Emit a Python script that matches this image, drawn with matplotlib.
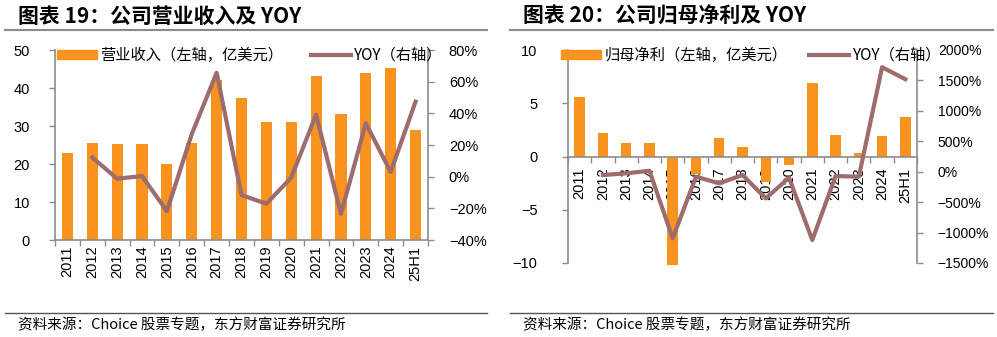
import numpy as np
import matplotlib.pyplot as plt
from matplotlib.lines import Line2D
from matplotlib.patches import Patch
from matplotlib.ticker import FuncFormatter, FixedLocator

plt.rcParams['font.family'] = ['Liberation Sans', 'Noto Sans CJK SC', 'DejaVu Sans']
plt.rcParams['axes.unicode_minus'] = True

cats = ['2011', '2012', '2013', '2014', '2015', '2016', '2017', '2018',
        '2019', '2020', '2021', '2022', '2023', '2024', '25H1']

# 图表19 营业收入（亿美元）及 YOY（%）
revenue = [22.8, 25.6, 25.2, 25.3, 20.0, 25.5, 42.0, 37.3,
           31.0, 31.0, 43.1, 33.1, 44.0, 45.3, 28.9]
rev_yoy = [np.nan, 12.1, -1.3, 0.4, -21.8, 26.9, 65.6, -11.6,
           -17.1, -0.6, 39.2, -23.5, 33.7, 3.0, 47.4]

# 图表20 归母净利（亿美元）及 YOY（%）
profit = [5.6, 2.2, 1.3, 1.3, -10.2, -1.6, 1.7, 0.9,
          -2.4, -0.8, 6.9, 2.0, 0.35, 1.9, 3.7]
prof_yoy = [np.nan, -54, -27, 16, -1095, -82, -191, -54,
            -438, -99, -1123, -71, -82, 1717, 1520]

ORANGE = '#F7931E'
BROWN = '#9E6C6C'
GRAY = '#8C8C8C'
CJK = ['Noto Sans CJK SC', 'DejaVu Sans']

fig = plt.figure(figsize=(9.97, 3.37), dpi=100)
W, H = 997, 337


def box(x0, y0, x1, y1):
    return [x0 / W, 1 - y1 / H, (x1 - x0) / W, (y1 - y0) / H]


def pct(v, pos):
    s = f'{v:.0f}%'
    return s.replace('-', '\u2212')


def style_axes(ax, ax2, lpad, rpad, xpad, rsize=10.5):
    for a in (ax, ax2):
        for s in a.spines.values():
            s.set_color(GRAY)
            s.set_linewidth(1.2)
        a.spines['top'].set_visible(False)
        a.tick_params(colors='black', labelsize=10.5, length=4, width=1, direction='out')
        a.tick_params(axis='y', color=GRAY)
    ax.tick_params(axis='y', pad=lpad)
    ax2.tick_params(axis='y', pad=rpad, labelsize=rsize)
    ax.spines['right'].set_visible(False)
    ax2.spines['left'].set_visible(False)
    ax2.spines['bottom'].set_visible(False)
    x = np.arange(len(cats))
    ax.set_xlim(-0.5, len(cats) - 0.5)
    ax.set_xticks(x)
    ax.set_xticklabels(cats, rotation=90)
    ax.tick_params(axis='x', which='major', length=0, pad=xpad)
    ax.xaxis.set_minor_locator(FixedLocator(np.arange(-0.5, len(cats), 1.0)))
    ax.tick_params(axis='x', which='minor', length=4, color=GRAY, width=1)
    ax2.yaxis.set_major_formatter(FuncFormatter(pct))


def headers(x0, x1, title):
    fig.text((x0 + 13) / W, 1 - 16 / H, title, fontsize=15, fontweight='bold',
             family=CJK, va='center', ha='left')
    fig.add_artist(Line2D([x0 / W, x1 / W], [1 - 30 / H] * 2, color='#8a8a8a', lw=1.5))
    fig.add_artist(Line2D([x0 / W, x1 / W], [1 - 313 / H] * 2, color='#555555', lw=1))
    fig.text((x0 + 13) / W, 1 - 325 / H, '资料来源：Choice 股票专题，东方财富证券研究所',
             fontsize=10.5, family=CJK, va='center', ha='left')


x = np.arange(len(cats))

# ---- 左图
ax1 = fig.add_axes(box(55, 50, 428, 240))
ax1b = ax1.twinx()
ax1.bar(x, revenue, width=0.45, color=ORANGE, zorder=2)
ax1b.plot(x, rev_yoy, color=BROWN, lw=3, zorder=3)
ax1.set_ylim(0, 50)
ax1.set_yticks([0, 10, 20, 30, 40, 50])
ax1b.set_ylim(-40, 80)
ax1b.set_yticks(range(-40, 81, 20))
style_axes(ax1, ax1b, lpad=14, rpad=11, xpad=4)
ax1b.set_zorder(ax1.get_zorder() + 1)
h1 = [Patch(color=ORANGE), Line2D([], [], color=BROWN, lw=3)]
ax1b.legend(h1, ['营业收入（左轴，亿美元）', 'YOY（右轴）'], ncol=2, frameon=False,
            loc='center left', bbox_to_anchor=(0.005, 0.972), borderpad=0,
            borderaxespad=0, handlelength=2.6, handleheight=0.55,
            columnspacing=1.8, handletextpad=0.25,
            prop={'family': CJK, 'size': 11})
headers(5, 487, '图表 19：公司营业收入及 YOY')

# ---- 右图
ax2 = fig.add_axes(box(568, 50, 917, 263))
ax2b = ax2.twinx()
ax2.spines['bottom'].set_position(('data', 0))
ax2.bar(x, profit, width=0.45, color=ORANGE, zorder=2, clip_on=False)
ax2b.plot(x, prof_yoy, color=BROWN, lw=3, zorder=3)
ax2.set_ylim(-10, 10)
ax2.set_yticks([-10, -5, 0, 5, 10])
ax2b.set_ylim(-1500, 2000)
ax2b.set_yticks(range(-1500, 2001, 500))
style_axes(ax2, ax2b, lpad=18, rpad=11, xpad=8, rsize=10)
ax2b.set_zorder(ax2.get_zorder() + 1)
h2 = [Patch(color=ORANGE), Line2D([], [], color=BROWN, lw=3)]
ax2b.legend(h2, ['归母净利（左轴，亿美元）', 'YOY（右轴）'], ncol=2, frameon=False,
            loc='center left', bbox_to_anchor=(-0.02, 0.975), borderpad=0,
            borderaxespad=0, handlelength=2.6, handleheight=0.55,
            columnspacing=1.4, handletextpad=0.25,
            prop={'family': CJK, 'size': 11})
headers(510, 993, '图表 20：公司归母净利及 YOY')

fig.savefig('out.png', dpi=100)
